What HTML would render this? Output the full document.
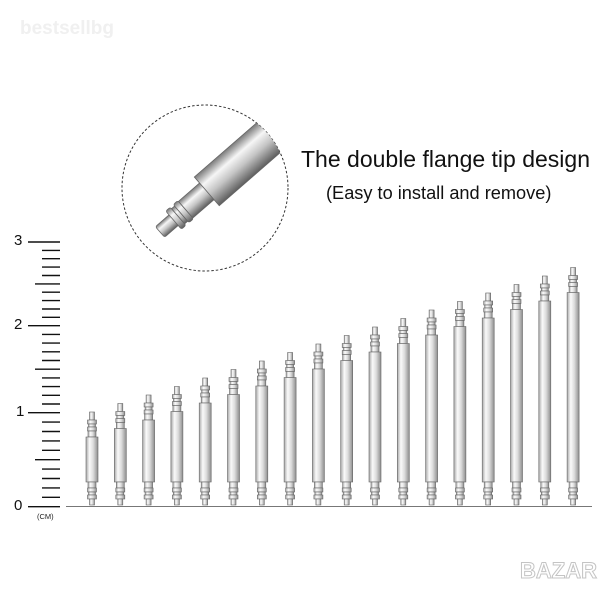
<!DOCTYPE html>
<html><head><meta charset="utf-8"><style>
html,body{margin:0;padding:0;background:#fff}
body{width:600px;height:600px;position:relative;overflow:hidden;font-family:"Liberation Sans",sans-serif}
.t1{position:absolute;left:301px;top:146px;font-size:23px;color:#111;white-space:nowrap}
.t2{position:absolute;left:326px;top:183px;font-size:18.2px;color:#111;white-space:nowrap}
.wm{position:absolute;left:20px;top:18px;font-size:19px;font-weight:bold;color:#f0f0f0}
.lbl{position:absolute;font-size:15px;color:#111}
.cm{position:absolute;left:37px;top:512px;font-size:7.5px;color:#222}
.bz{position:absolute;left:520px;top:558px;font-size:22px;font-weight:bold;color:#fff;-webkit-text-stroke:1px #c4c4c4;letter-spacing:0px}
</style></head><body>
<div class="wm">bestsellbg</div>
<div class="t1">The double flange tip design</div>
<div class="t2">(Easy to install and remove)</div>
<div class="lbl" style="left:14px;top:232px">3</div>
<div class="lbl" style="left:14px;top:316px">2</div>
<div class="lbl" style="left:16px;top:403px">1</div>
<div class="lbl" style="left:14px;top:497px">0</div>
<div class="cm">(CM)</div>
<div class="bz">BAZAR</div>
<svg width="600" height="600" style="position:absolute;left:0;top:0">
<defs>
<linearGradient id="g" x1="0" x2="1" y1="0" y2="0">
<stop offset="0" stop-color="#a8a8a8"/><stop offset=".3" stop-color="#fafafa"/><stop offset=".6" stop-color="#dcdcdc"/><stop offset="1" stop-color="#8e8e8e"/></linearGradient>
<linearGradient id="gv" x1="0" x2="0" y1="0" y2="1">
<stop offset="0" stop-color="#7a7a7a"/><stop offset=".3" stop-color="#f6f6f6"/><stop offset=".6" stop-color="#c4c4c4"/><stop offset="1" stop-color="#5e5e5e"/></linearGradient>
<clipPath id="cc"><circle cx="205" cy="188" r="83"/></clipPath>
<g id="tp" fill="url(#g)" stroke="#666" stroke-width=".6">
<rect x="-2.5" y="0" width="5" height="8"/><rect x="-4.5" y="8" width="9" height="4"/><rect x="-3.5" y="12" width="7" height="3"/><rect x="-4.5" y="15" width="9" height="4"/><rect x="-4" y="19" width="8" height="6"/></g>
<g id="bt" fill="url(#g)" stroke="#666" stroke-width=".6">
<rect x="-4" y="482" width="8" height="6"/><rect x="-4.5" y="488" width="9" height="4"/><rect x="-3.5" y="492" width="7" height="3"/><rect x="-4.5" y="495" width="9" height="4"/><rect x="-2.5" y="499" width="5" height="6"/></g>
</defs>
<circle cx="205" cy="188" r="83" fill="none" stroke="#333" stroke-width="1" stroke-dasharray="2.5,2"/>
<g clip-path="url(#cc)"><g transform="translate(160,232) rotate(-41)" stroke="#666" stroke-width=".8" fill="url(#gv)">
<rect x="0" y="-7" width="20" height="14" rx="2"/>
<rect x="18" y="-12" width="6" height="24" rx="2"/>
<rect x="24" y="-10" width="4" height="20"/>
<rect x="28" y="-12" width="6" height="24" rx="2"/>
<rect x="34" y="-11" width="30" height="22"/>
<rect x="62" y="-19" width="200" height="38"/>
</g></g>
<path stroke="#111" stroke-width="1.4" fill="none" d="
M28 506.7H60M42 497.3H60M42 487.9H60M42 478.5H60M42 469.1H60M35 459.7H60M42 450.3H60M42 440.9H60M42 431.5H60M42 422.1H60M28 412.7H60
M42 404H60M42 395.3H60M42 386.6H60M42 377.9H60M35 369.2H60M42 360.5H60M42 351.8H60M42 343.1H60M42 334.4H60M28 325.7H60
M42 317.3H60M42 309H60M42 300.6H60M42 292.2H60M35 283.9H60M42 275.5H60M42 267.1H60M42 258.7H60M42 250.4H60M28 242H60"/>
<line x1="66" y1="506.5" x2="592" y2="506.5" stroke="#777" stroke-width="1"/>
<g fill="url(#g)" stroke="#666" stroke-width=".6">
<g transform="translate(92,0)"><use href="#tp" y="412"/><rect x="-6" y="437" width="12" height="45"/><use href="#bt"/></g>
<g transform="translate(120.3,0)"><use href="#tp" y="403.5"/><rect x="-6" y="428.5" width="12" height="53.5"/><use href="#bt"/></g>
<g transform="translate(148.6,0)"><use href="#tp" y="395"/><rect x="-6" y="420" width="12" height="62"/><use href="#bt"/></g>
<g transform="translate(176.9,0)"><use href="#tp" y="386.5"/><rect x="-6" y="411.5" width="12" height="70.5"/><use href="#bt"/></g>
<g transform="translate(205.2,0)"><use href="#tp" y="378"/><rect x="-6" y="403" width="12" height="79"/><use href="#bt"/></g>
<g transform="translate(233.5,0)"><use href="#tp" y="369.5"/><rect x="-6" y="394.5" width="12" height="87.5"/><use href="#bt"/></g>
<g transform="translate(261.8,0)"><use href="#tp" y="361"/><rect x="-6" y="386" width="12" height="96"/><use href="#bt"/></g>
<g transform="translate(290.1,0)"><use href="#tp" y="352.5"/><rect x="-6" y="377.5" width="12" height="104.5"/><use href="#bt"/></g>
<g transform="translate(318.4,0)"><use href="#tp" y="344"/><rect x="-6" y="369" width="12" height="113"/><use href="#bt"/></g>
<g transform="translate(346.7,0)"><use href="#tp" y="335.5"/><rect x="-6" y="360.5" width="12" height="121.5"/><use href="#bt"/></g>
<g transform="translate(375,0)"><use href="#tp" y="327"/><rect x="-6" y="352" width="12" height="130"/><use href="#bt"/></g>
<g transform="translate(403.3,0)"><use href="#tp" y="318.5"/><rect x="-6" y="343.5" width="12" height="138.5"/><use href="#bt"/></g>
<g transform="translate(431.6,0)"><use href="#tp" y="310"/><rect x="-6" y="335" width="12" height="147"/><use href="#bt"/></g>
<g transform="translate(459.9,0)"><use href="#tp" y="301.5"/><rect x="-6" y="326.5" width="12" height="155.5"/><use href="#bt"/></g>
<g transform="translate(488.2,0)"><use href="#tp" y="293"/><rect x="-6" y="318" width="12" height="164"/><use href="#bt"/></g>
<g transform="translate(516.5,0)"><use href="#tp" y="284.5"/><rect x="-6" y="309.5" width="12" height="172.5"/><use href="#bt"/></g>
<g transform="translate(544.8,0)"><use href="#tp" y="276"/><rect x="-6" y="301" width="12" height="181"/><use href="#bt"/></g>
<g transform="translate(573.1,0)"><use href="#tp" y="267.5"/><rect x="-6" y="292.5" width="12" height="189.5"/><use href="#bt"/></g>
</g>
</svg>
</body></html>
